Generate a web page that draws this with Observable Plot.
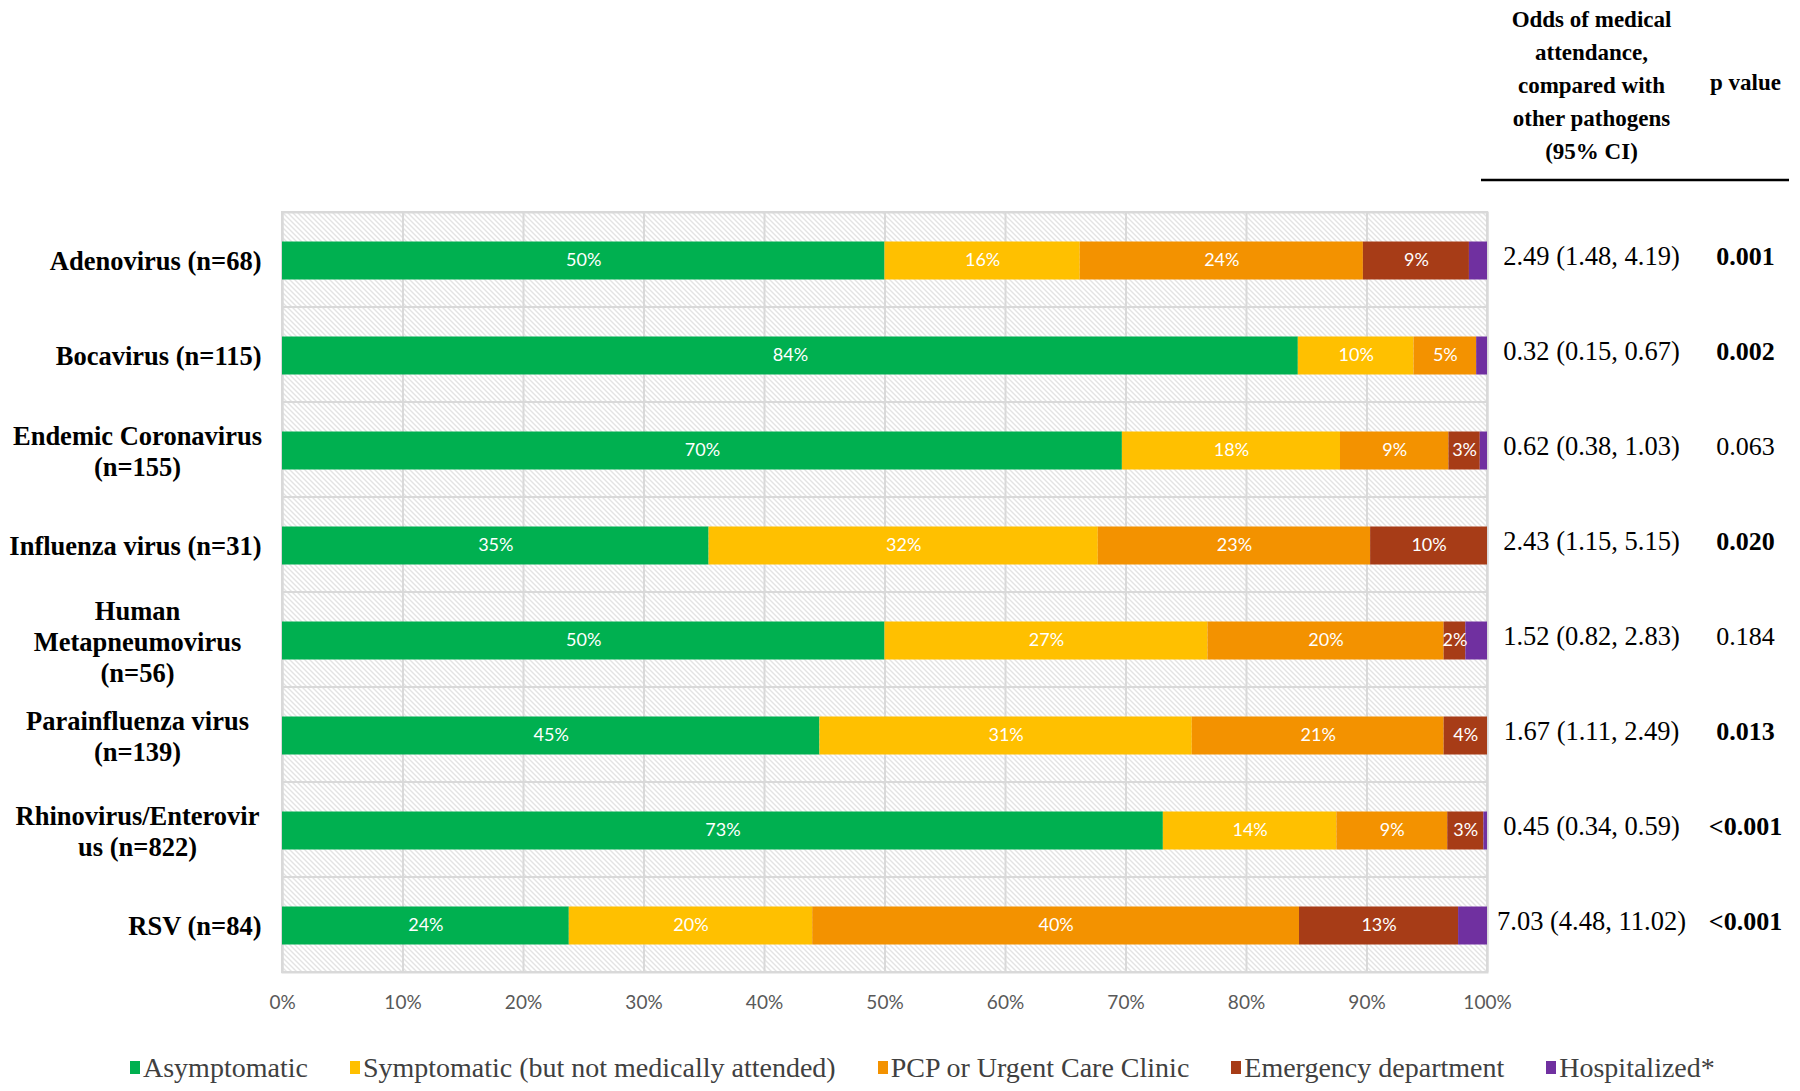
<!DOCTYPE html>
<html>
<head>
<meta charset="utf-8">
<script src="https://cdn.jsdelivr.net/npm/d3@7"></script>
<script src="https://cdn.jsdelivr.net/npm/@observablehq/plot@0.6"></script>
<style>
  html, body { margin: 0; padding: 0; background: #ffffff; }
  #chart svg { display: block; }
  #legend {
    height: 61px; box-sizing: border-box; padding-top: 14px; padding-left: 130px;
    display: flex; align-items: center; white-space: nowrap;
    font-family: 'Liberation Serif', 'Times New Roman', serif; font-size: 28px; color: #404040;
  }
  #legend .item { display: flex; align-items: center; margin-right: 42px; }
  #legend .sw { width: 10px; height: 13px; margin-right: 3px; }
</style>
</head>
<body>
<div id="chart"></div>
<div id="legend"></div>
<script>
// ---- data ----
const pathogens = [
  "Adenovirus (n=68)",
  "Bocavirus (n=115)",
  "Endemic Coronavirus\n(n=155)",
  "Influenza virus (n=31)",
  "Human\nMetapneumovirus\n(n=56)",
  "Parainfluenza virus\n(n=139)",
  "Rhinovirus/Enterovir\nus (n=822)",
  "RSV (n=84)"
];
const categories = [
  "Asymptomatic",
  "Symptomatic (but not medically attended)",
  "PCP or Urgent Care Clinic",
  "Emergency department",
  "Hospitalized*"
];
const colors = ["#00B050", "#FFC000", "#F39200", "#A73C17", "#7030A0"];

const asymptomatic = [50.0, 84.3, 69.7, 35.4, 50.0, 44.6, 73.1, 23.8];
const symptomatic  = [16.2,  9.6, 18.1, 32.3, 26.8, 30.9, 14.4, 20.2];
const pcpUrgent    = [23.5,  5.2,  9.0, 22.6, 19.6, 20.9,  9.2, 40.4];
const emergency    = [ 8.8,  0.0,  2.6,  9.7,  1.8,  3.6,  3.0, 13.2];
const hospitalized = [ 1.5,  0.9,  0.6,  0.0,  1.8,  0.0,  0.3,  2.4];
const series = [asymptomatic, symptomatic, pcpUrgent, emergency, hospitalized];

const oddsRatios = [
  "2.49 (1.48, 4.19)", "0.32 (0.15, 0.67)", "0.62 (0.38, 1.03)", "2.43 (1.15, 5.15)",
  "1.52 (0.82, 2.83)", "1.67 (1.11, 2.49)", "0.45 (0.34, 0.59)", "7.03 (4.48, 11.02)"
];
const pValues = ["0.001", "0.002", "0.063", "0.020", "0.184", "0.013", "<0.001", "<0.001"];
const xTicks = [0, 10, 20, 30, 40, 50, 60, 70, 80, 90, 100];

const oddsHeader = "Odds of medical\nattendance,\ncompared with\nother pathogens\n(95% CI)";
const pHeader = "p value";

// ---- derived ----
const rows = pathogens.flatMap((p, i) => categories.map((c, j) => ({pathogen: p, category: c, value: series[j][i]})));
const isSig = pValues.map(s => s.startsWith("<") || parseFloat(s) < 0.05);

const serif = "'Liberation Serif', 'Times New Roman', serif";
const sans = "Lato, 'Open Sans', sans-serif";

const defsMark = () => {
  const defs = d3.create("svg:defs");
  const p = defs.append("pattern").attr("id", "hatch").attr("patternUnits", "userSpaceOnUse")
    .attr("width", 5).attr("height", 5);
  p.append("rect").attr("width", 5).attr("height", 5).attr("fill", "#ffffff");
  p.append("path").attr("d", "M0,0L5,5M-1,4L1,6M4,-1L6,1")
    .attr("stroke", "#c6c6c6").attr("stroke-width", 1);
  return defs.node();
};

const headerRule = (index, scales, values, dims) => {
  const x1 = dims.width - dims.marginRight - 6;
  const x2 = dims.width - 11;
  const y = dims.marginTop - 32;
  return d3.create("svg:line").attr("x1", x1).attr("x2", x2).attr("y1", y).attr("y2", y)
    .attr("stroke", "#000").attr("stroke-width", 2.5).node();
};

const chart = Plot.plot({
  width: 1800,
  height: 1030,
  marginTop: 212,
  marginBottom: 58,
  marginLeft: 282,
  marginRight: 313,
  x: {domain: [0, 100]},
  y: {domain: pathogens, padding: 0, axis: null},
  color: {domain: categories, range: colors},
  style: {fontFamily: sans, background: "#ffffff"},
  marks: [
    defsMark,
    Plot.frame({fill: "url(#hatch)", stroke: "#d9d9d9", strokeWidth: 2}),
    Plot.ruleX(xTicks, {stroke: "#d9d9d9", strokeWidth: 2}),
    Plot.barX(pathogens, {x1: 0, x2: 100, y: d => d, fill: "none", stroke: "#d9d9d9", strokeWidth: 2}),
    Plot.barX(rows, Plot.stackX({
      x: "value", y: "pathogen", fill: "category", order: categories,
      insetTop: 29.5, insetBottom: 27.5
    })),
    Plot.text(rows.filter(d => d.category !== "Hospitalized*" && d.value > 0), Plot.stackX({
      x: "value", y: "pathogen", z: "category", order: categories.slice(0, 4),
      text: d => Math.round(d.value) + "%", dy: 0.5,
      fill: "#ffffff", fontSize: 18, fontFamily: sans
    })),
    Plot.axisX(xTicks, {
      tickFormat: d => d + "%", tickSize: 0, tickPadding: 23, fontSize: 19,
      color: "#595959", fontFamily: sans, label: null
    }),
    // category labels
    Plot.text(pathogens.filter(p => !p.includes("\n")), {
      y: d => d, text: d => d, frameAnchor: "left", dx: -21, dy: 2, textAnchor: "end",
      fontSize: 26.5, fontWeight: "bold", fontFamily: serif, fill: "#000"
    }),
    Plot.text(pathogens.filter(p => p.includes("\n")), {
      y: d => d, text: d => d, frameAnchor: "left", dx: -145, dy: 1, textAnchor: "middle",
      lineHeight: 1.16, fontSize: 26.5, fontWeight: "bold", fontFamily: serif, fill: "#000"
    }),
    // right columns
    Plot.text(pathogens, {
      y: pathogens, text: oddsRatios, frameAnchor: "right", dx: 104, dy: -3,
      textAnchor: "middle", fontSize: 26.5, fontFamily: serif, fill: "#000"
    }),
    Plot.text(pathogens, {
      y: pathogens, text: pValues, filter: (d, i) => isSig[i], frameAnchor: "right", dx: 258, dy: -3,
      textAnchor: "middle", fontSize: 26, fontWeight: "bold", fontFamily: serif, fill: "#000"
    }),
    Plot.text(pathogens, {
      y: pathogens, text: pValues, filter: (d, i) => !isSig[i], frameAnchor: "right", dx: 258, dy: -3,
      textAnchor: "middle", fontSize: 26, fontFamily: serif, fill: "#000"
    }),
    // headers
    Plot.text([oddsHeader], {
      frameAnchor: "top-right", dx: 104, dy: -130, textAnchor: "middle", lineAnchor: "middle",
      lineHeight: 1.43, fontSize: 23, fontWeight: "bold", fontFamily: serif, fill: "#000"
    }),
    Plot.text([pHeader], {
      frameAnchor: "top-right", dx: 258, dy: -130, textAnchor: "middle", lineAnchor: "middle",
      fontSize: 23, fontWeight: "bold", fontFamily: serif, fill: "#000"
    }),
    headerRule
  ]
});
document.getElementById("chart").appendChild(chart);

// legend
const legend = d3.select("#legend");
categories.forEach((c, i) => {
  const item = legend.append("div").attr("class", "item");
  item.append("div").attr("class", "sw").style("background", colors[i]);
  item.append("span").text(c);
});
</script>
</body>
</html>
